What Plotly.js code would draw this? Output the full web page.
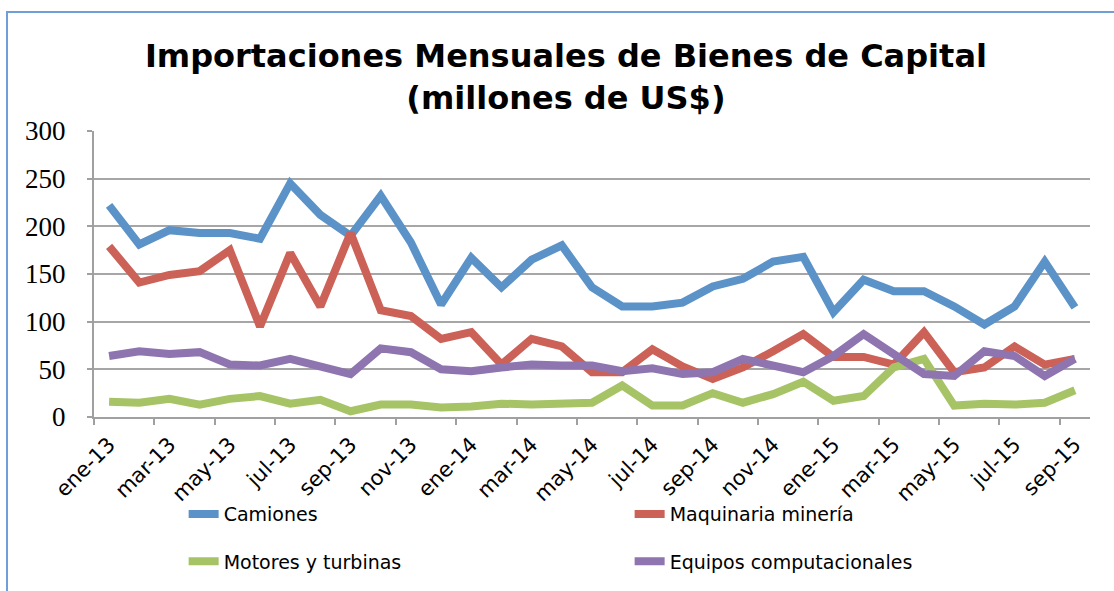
<!DOCTYPE html>
<html>
<head>
<meta charset="utf-8">
<script src="https://cdn.plot.ly/plotly-3.0.1.min.js"></script>
<style>
  body { margin: 0; background: #fff; }
  #graph { position: absolute; left: 0; top: 0; width: 1114px; height: 591px; }
  /* chart frame (top and left edges visible in the original) */
  #frame { position: absolute; left: 6px; top: 11px; right: -4px; bottom: -4px;
           border-left: 2px solid #6f9fd6; border-top: 2px solid #6f9fd6; pointer-events: none; }
</style>
</head>
<body>
<div id="graph"></div>
<div id="frame"></div>
<script>
// months ene-13 .. sep-15
var meses = ["ene-13","feb-13","mar-13","abr-13","may-13","jun-13","jul-13","ago-13","sep-13","oct-13","nov-13","dic-13",
             "ene-14","feb-14","mar-14","abr-14","may-14","jun-14","jul-14","ago-14","sep-14","oct-14","nov-14","dic-14",
             "ene-15","feb-15","mar-15","abr-15","may-15","jun-15","jul-15","ago-15","sep-15"];

// millones de US$
var camiones = [222,181,196,193,193,187,245,212,190,232,183,118,
                167,136,165,180,136,116,116,120,137,145,163,168,
                110,144,132,132,116,97,116,163,115];
var maquinaria = [179,141,149,153,175,95,172,116,193,112,106,82,
                  89,55,82,74,47,47,71,53,40,52,69,87,
                  63,63,55,89,47,52,74,55,61];
var motores = [16,15,19,13,19,22,14,18,6,13,13,10,
               11,14,13,15,15,33,12,12,25,15,24,37,
               17,22,52,61,12,14,13,15,28];
var equipos = [64,69,66,68,55,54,61,52,45,72,68,50,
               48,52,55,54,54,48,51,45,47,61,54,47,
               64,87,66,45,43,69,64,43,61];

function serie(name, y, color, legend) {
    return {
        x: meses, y: y, type: "scatter", mode: "lines", name: name,
        line: {color: color, width: 8, shape: "linear"},
        legend: legend
    };
}

var data = [
    serie("Camiones", camiones, "#5b92c8", "legend"),
    serie("Maquinaria minería", maquinaria, "#cc6157", "legend"),
    serie("Motores y turbinas", motores, "#a6c466", "legend2"),
    serie("Equipos computacionales", equipos, "#8e75b0", "legend2")
];

var legendBase = {
    orientation: "h", x: 0.09, xanchor: "left", yanchor: "middle",
    entrywidth: 401, entrywidthmode: "pixels",
    font: {family: "DejaVu Sans", size: 19, color: "#000"},
    bgcolor: "rgba(0,0,0,0)", traceorder: "normal"
};

var layout = {
    width: 1114, height: 591,
    margin: {l: 94, r: 24, t: 131, b: 173},
    paper_bgcolor: "rgba(0,0,0,0)", plot_bgcolor: "#fff",
    showlegend: true,
    title: {
        text: "Importaciones Mensuales de Bienes de Capital<br>(millones de US$)",
        font: {family: "DejaVu Sans", size: 32, color: "#000", weight: "bold"},
        x: 0.508, xanchor: "center", y: 0.886, yanchor: "middle"
    },
    xaxis: {
        type: "category", tickmode: "linear", tick0: 0, dtick: 2,
        tickson: "boundaries", ticks: "outside", ticklen: 6, tickwidth: 2, tickcolor: "#a0a0a0",
        showline: true, linecolor: "#a0a0a0", linewidth: 2,
        showgrid: false, tickangle: -45, ticklabelstandoff: 5,
        tickfont: {family: "DejaVu Sans", size: 21, color: "#000"},
        range: [-0.5, 32.5]
    },
    yaxis: {
        range: [0, 300], dtick: 50, ticks: "outside", ticklen: 5, tickwidth: 2, tickcolor: "#a0a0a0",
        showline: true, linecolor: "#a0a0a0", linewidth: 2,
        gridcolor: "#a6a6a6", gridwidth: 2, zeroline: false, ticklabelstandoff: 16,
        tickfont: {family: "Liberation Serif", size: 27, color: "#000"}
    },
    legend: Object.assign({}, legendBase, {y: -0.335}),
    legend2: Object.assign({}, legendBase, {y: -0.5})
};

Plotly.newPlot("graph", data, layout, {displayModeBar: false});
</script>
</body>
</html>
